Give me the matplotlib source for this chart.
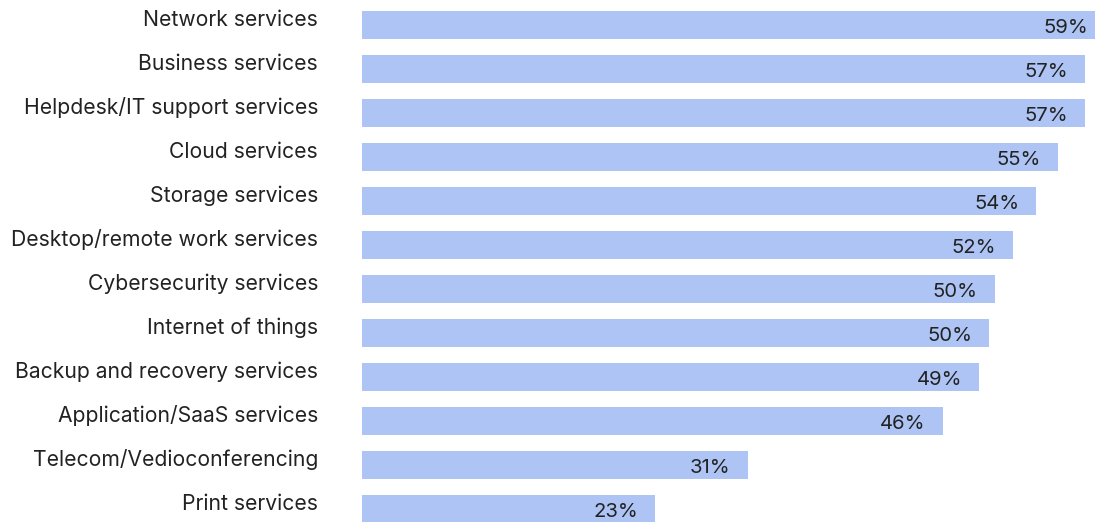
import matplotlib.pyplot as plt
from matplotlib.transforms import blended_transform_factory

# Data
categories = [
    "Network services",
    "Business services",
    "Helpdesk/IT support services",
    "Cloud services",
    "Storage services",
    "Desktop/remote work services",
    "Cybersecurity services",
    "Internet of things",
    "Backup and recovery services",
    "Application/SaaS services",
    "Telecom/Vedioconferencing",
    "Print services",
]
values = [59.0, 57.4, 57.4, 55.2, 53.5, 51.7, 50.2, 49.8, 49.0, 46.1, 30.6, 23.25]
value_labels = ["59%", "57%", "57%", "55%", "54%", "52%", "50%", "50%", "49%", "46%", "31%", "23%"]

plt.rcParams['font.family'] = ['Inter', 'DejaVu Sans']

W, H = 1095, 522
px_per_unit = 12.6  # pixels per percent
row = 44            # pixels between bars
x0 = 362            # left edge of bars

fig = plt.figure(figsize=(W / 100, H / 100), dpi=100)
ax = fig.add_axes([x0 / W, 0, 1 - x0 / W, 1])

ypos = list(range(len(categories)))
ax.barh(ypos, values, height=28 / row, color="#adc4f4", left=0)

ax.set_xlim(0, (W - x0) / px_per_unit)
ax.set_ylim((H - 25) / row, -25 / row)
ax.axis("off")

text_color = "#222222"
trans = blended_transform_factory(ax.transAxes, ax.transData)
for i, (cat, v, lab) in enumerate(zip(categories, values, value_labels)):
    # category name: baseline sits just under the bar centre
    ax.text(-44 / (W - x0), i + 1.5 / row, cat, transform=trans,
            ha="right", va="baseline", fontsize=15.2, color=text_color)
    # value inside the bar, near its end
    ax.text(v - 17 / px_per_unit, i + 8 / row, lab,
            ha="right", va="baseline", fontsize=14.6, color=text_color)

fig.savefig("out.png", dpi=100)
